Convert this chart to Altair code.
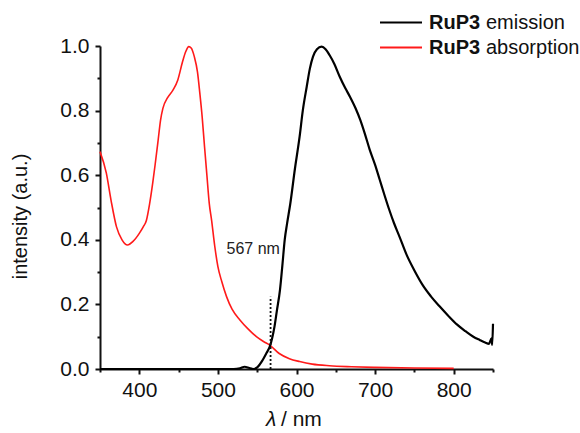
import altair as alt
import pandas as pd

# absorption (red)
abs_nm = [350, 358, 364, 371, 378, 385, 392, 400, 405, 409, 413, 417, 420, 424, 427, 430, 436, 443, 449, 455,
          459, 463, 466, 470, 474, 477, 480, 483, 486, 489, 492, 496, 500, 505, 511, 518, 528, 538, 549, 558,
          566, 578, 591, 604, 620, 642, 670, 700, 750, 800]
abs_val = [0.673, 0.607, 0.523, 0.44, 0.40, 0.384, 0.395, 0.42, 0.44, 0.46, 0.51, 0.575, 0.63, 0.709, 0.77, 0.807,
           0.84, 0.864, 0.895, 0.951, 0.982, 0.998, 0.994, 0.967, 0.92, 0.854, 0.78, 0.688, 0.60, 0.513, 0.46,
           0.38, 0.317, 0.27, 0.224, 0.185, 0.152, 0.125, 0.10, 0.085, 0.074, 0.048, 0.032, 0.023, 0.015, 0.01,
           0.007, 0.005, 0.003, 0.002]

# emission (black)
em_nm = [350, 520, 528, 534, 540, 545, 550, 557, 562, 566, 569, 572, 575, 579, 582, 585, 588, 592, 598, 604,
         608, 613, 617, 621, 626, 632, 637, 642, 648, 655, 662, 668, 675, 681, 687, 693, 700, 706, 712, 718,
         724, 731, 740, 750, 761, 771, 782, 793, 804, 815, 825, 833, 840, 845, 848, 849, 850]
em_val = [0, 0, 0.002, 0.007, 0.003, 0.0, 0.005, 0.028, 0.05, 0.069, 0.095, 0.131, 0.18, 0.245, 0.32, 0.40,
          0.45, 0.51, 0.62, 0.72, 0.80, 0.874, 0.93, 0.967, 0.99, 0.998, 0.99, 0.972, 0.945, 0.905, 0.87, 0.843,
          0.808, 0.772, 0.728, 0.68, 0.632, 0.585, 0.538, 0.493, 0.452, 0.41, 0.354, 0.305, 0.258, 0.225, 0.194,
          0.165, 0.138, 0.117, 0.1, 0.09, 0.082, 0.078, 0.095, 0.075, 0.14]

x_major = [400, 500, 600, 700, 800]
x_minor = [350, 450, 550, 650, 750, 850]
y_major = [0.0, 0.2, 0.4, 0.6, 0.8, 1.0]
y_minor = [0.1, 0.3, 0.5, 0.7, 0.9]

cross_nm = [567]
cross_top = [0.224]
note_text = ["567 nm"]
note_nm = [511]
note_val = [0.373]

FONT = "Liberation Sans"

df_abs = pd.DataFrame({"nm": abs_nm, "val": abs_val})
df_em = pd.DataFrame({"nm": em_nm, "val": em_val})
df_cross = pd.DataFrame({"nm": cross_nm, "y0": [0.0], "y1": cross_top})
df_note = pd.DataFrame({"nm": note_nm, "val": note_val, "t": note_text})

xscale = alt.Scale(domain=[350, 850], nice=False, zero=False)
yscale = alt.Scale(domain=[0, 1.0], nice=False)

x_axis = alt.Axis(values=x_major, format=".0f", title=None, labelFontSize=21, labelFont=FONT,
                  labelColor="#111", tickSize=5, tickWidth=2, tickColor="#111", domainColor="#111",
                  domainWidth=2, labelPadding=5, grid=False)
y_axis = alt.Axis(values=y_major, format=".1f", title="intensity (a.u.)", labelFontSize=21, labelFont=FONT,
                  labelColor="#111", tickSize=5, tickWidth=2, tickColor="#111", domainColor="#111",
                  domainWidth=2, labelPadding=6, grid=False, titleFont=FONT, titleFontSize=20,
                  titleFontWeight="normal", titleColor="#111", titleX=-80, titleY=170,
                  titleAngle=270, titleAlign="center", titleBaseline="middle")

red = alt.Chart(df_abs).mark_line(color="#ff1a1a", strokeWidth=1.6, interpolate="monotone").encode(
    x=alt.X("nm:Q", scale=xscale, axis=x_axis),
    y=alt.Y("val:Q", scale=yscale, axis=y_axis),
)

minor = alt.Chart(df_abs).mark_line(opacity=0).encode(
    x=alt.X("nm:Q", scale=xscale, axis=alt.Axis(values=x_minor, labels=False, title=None, orient="bottom",
                                                  tickSize=3, tickWidth=2, tickColor="#111", domain=False,
                                                  grid=False)),
    y=alt.Y("val:Q", scale=yscale, axis=alt.Axis(values=y_minor, labels=False, title=None, orient="left",
                                                   tickSize=3, tickWidth=2, tickColor="#111", domain=False,
                                                   grid=False)),
)

black = alt.Chart(df_em).mark_line(color="#000000", strokeWidth=2.2, interpolate="monotone").encode(
    x=alt.X("nm:Q", scale=xscale, axis=None),
    y=alt.Y("val:Q", scale=yscale, axis=None),
)

cross = alt.Chart(df_cross).mark_rule(color="#111", strokeWidth=1.8, strokeDash=[2, 2]).encode(
    x=alt.X("nm:Q", scale=xscale, axis=None),
    y=alt.Y("y0:Q", scale=yscale, axis=None),
    y2="y1:Q",
)

note = alt.Chart(df_note).mark_text(align="left", baseline="middle", fontSize=16, font=FONT,
                                    color="#222").encode(
    x=alt.X("nm:Q", scale=xscale, axis=None),
    y=alt.Y("val:Q", scale=yscale, axis=None),
    text="t:N",
)

# legend (pixel-positioned decoration)
leg_rows = pd.DataFrame({"label": ["emission", "absorption"], "ypx": [-23.5, 1.5],
                         "color": ["#000000", "#ff1a1a"]})
leg_lines = alt.Chart(leg_rows).mark_rule(strokeWidth=2).encode(
    x=alt.value(280), x2=alt.value(322), y=alt.Y("ypx:Q", scale=None, axis=None),
    color=alt.Color("color:N", scale=None, legend=None),
)
leg_bold = alt.Chart(leg_rows).mark_text(align="left", baseline="middle", fontSize=20, font=FONT,
                                         fontWeight="bold", color="#111").encode(
    x=alt.value(329), y=alt.Y("ypx:Q", scale=None, axis=None), text=alt.value("RuP3"),
)
leg_txt = alt.Chart(leg_rows).mark_text(align="left", baseline="middle", fontSize=20, font=FONT,
                                        color="#111").encode(
    x=alt.value(386), y=alt.Y("ypx:Q", scale=None, axis=None), text="label:N",
)

# x-axis title with italic lambda
xt1 = alt.Chart(pd.DataFrame({"a": [0]})).mark_text(align="left", baseline="alphabetic", fontSize=21,
                                                    font=FONT, fontStyle="italic", color="#111").encode(
    x=alt.value(166), y=alt.value(380), text=alt.value("λ"))
xt2 = alt.Chart(pd.DataFrame({"a": [0]})).mark_text(align="left", baseline="alphabetic", fontSize=21,
                                                    font=FONT, color="#111").encode(
    x=alt.value(181), y=alt.value(380), text=alt.value(" / nm"))

chart = alt.layer(red, minor, black, cross, note, leg_lines, leg_bold, leg_txt, xt1, xt2).resolve_axis(
    x="independent", y="independent"
).properties(
    width=393, height=323,
    background="white",
    autosize=alt.AutoSizeParams(type="none"),
    padding={"left": 100, "top": 46, "right": 87, "bottom": 64},
).configure_view(stroke=None)

chart.save("out.html", embed_options={"renderer": "svg", "actions": False})
